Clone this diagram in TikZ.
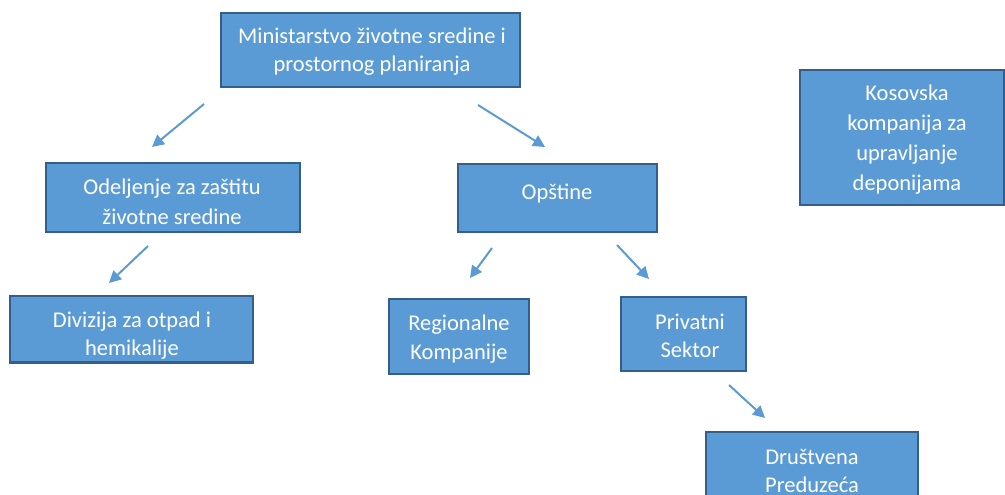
\documentclass[tikz,border=0pt]{standalone}
\usepackage{fontspec}
\setmainfont{Carlito}
\usetikzlibrary{arrows.meta}
\definecolor{boxfill}{HTML}{5B9BD5}
\definecolor{boxline}{HTML}{355F8A}
\definecolor{arr}{HTML}{5B9BD5}
\begin{document}
\begin{tikzpicture}[x=1pt,y=-1pt,
  box/.style={draw=boxline, fill=boxfill, line width=2pt, inner sep=0pt},
  txt/.style={anchor=base, inner sep=0pt, text=white, font=\fontsize{22.5}{27}\selectfont},
  link/.style={draw=arr, line width=2pt, -{Triangle[length=12pt,width=12pt]}}]
\useasboundingbox (0,0) rectangle (1005,495);
\clip (0,0) rectangle (1005,495);
% boxes
\node[box, minimum width=299pt, minimum height=74pt] (min) at (370.5,50) {};
\node[box, minimum width=254pt, minimum height=69pt] (ode) at (173,197.5) {};
\node[box, minimum width=199pt, minimum height=68pt] (ops) at (557.5,198) {};
\node[box, minimum width=204pt, minimum height=135pt] (kos) at (902,137.5) {};
\node[box, minimum width=243pt, minimum height=66pt] (div) at (131.5,329) {};
\node[box, minimum width=140pt, minimum height=75pt] (reg) at (459,336.5) {};
\node[box, minimum width=125pt, minimum height=74pt] (pri) at (683.5,334) {};
\node[box, minimum width=212pt, minimum height=88pt] (dru) at (812,476) {};
% texts
\node[txt] (min1) at (372,44) {Ministarstvo životne sredine i};
\node[txt] (min2) at (372,72) {prostornog planiranja};
\node[txt] (ode1) at (172,194) {Odeljenje za zaštitu};
\node[txt] (ode2) at (172,224) {životne sredine};
\node[txt] (ops1) at (557,199) {Opštine};
\node[txt] (kos1) at (907,100) {Kosovska};
\node[txt] (kos2) at (907,130) {kompanija za};
\node[txt] (kos3) at (907,160) {upravljanje};
\node[txt] (kos4) at (907,190) {deponijama};
\node[txt] (div1) at (132,327) {Divizija za otpad i};
\node[txt] (div2) at (132,355) {hemikalije};
\node[txt] (reg1) at (459,330) {Regionalne};
\node[txt] (reg2) at (459,359) {Kompanije};
\node[txt] (pri1) at (690,329) {Privatni};
\node[txt] (pri2) at (690,357) {Sektor};
\node[txt] (dru1) at (812,464) {Društvena};
\node[txt] (dru2) at (812,492) {Preduzeća};
% redraw bottom border of div over overflowing text
\draw[boxline, line width=2pt] (div.south west) -- (div.south east);
% arrows
\coordinate (a1s) at (204,104); \coordinate (a1e) at (152,147);
\coordinate (a2s) at (478,105); \coordinate (a2e) at (545,147);
\coordinate (a3s) at (148,246); \coordinate (a3e) at (109,283);
\coordinate (a4s) at (492,248); \coordinate (a4e) at (470,278);
\coordinate (a5s) at (617,245); \coordinate (a5e) at (649,279);
\coordinate (a6s) at (729,385); \coordinate (a6e) at (765,418);
\draw[link] (a1s) -- (a1e);
\draw[link] (a2s) -- (a2e);
\draw[link] (a3s) -- (a3e);
\draw[link] (a4s) -- (a4e);
\draw[link] (a5s) -- (a5e);
\draw[link] (a6s) -- (a6e);
\end{tikzpicture}
\end{document}
